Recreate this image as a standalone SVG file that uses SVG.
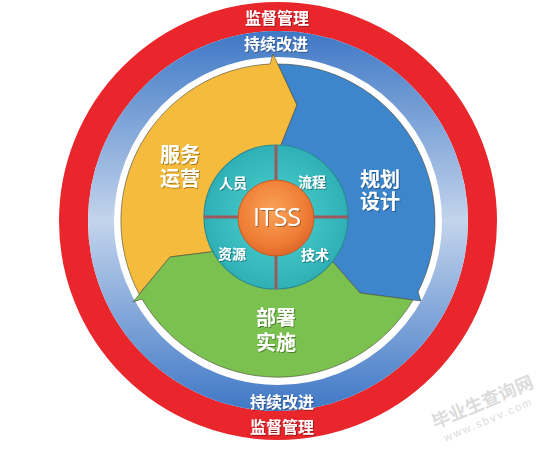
<svg xmlns="http://www.w3.org/2000/svg" width="554" height="452" viewBox="0 0 554 452">
<defs>
<linearGradient id="ringBlue" gradientUnits="userSpaceOnUse" x1="0" y1="31" x2="0" y2="411">
<stop offset="0" stop-color="#3f78c6"/>
<stop offset="0.5" stop-color="#c3d4ec"/>
<stop offset="1" stop-color="#3f78c6"/>
</linearGradient>
<radialGradient id="orangeG" cx="0.45" cy="0.4" r="0.65">
<stop offset="0" stop-color="#f9a35a"/>
<stop offset="0.7" stop-color="#ef7c34"/>
<stop offset="1" stop-color="#d9612a"/>
</radialGradient>
<radialGradient id="tealG" cx="0.5" cy="0.5" r="0.5">
<stop offset="0.5" stop-color="#3fc2c4"/>
<stop offset="1" stop-color="#2fb0b6"/>
</radialGradient>
<filter id="sh" x="-20%" y="-20%" width="140%" height="140%">
<feDropShadow dx="1" dy="1" stdDeviation="0.6" flood-color="#000" flood-opacity="0.35"/>
</filter>
<style>
.seg{stroke:#4a4a3a;stroke-opacity:0.6;stroke-width:1;stroke-linejoin:miter}
.lbl{font-family:"Liberation Sans","Noto Sans CJK SC",sans-serif;font-weight:bold;fill:#fff;text-anchor:middle}
.big{font-size:20px}
.sm{font-size:14px}
.ring{font-size:16px}
.cross{stroke:#9b5a5e;stroke-width:3}
</style>
</defs>
<rect width="554" height="452" fill="#fff"/>
<g id="rings">
<circle cx="278" cy="221" r="204.5" fill="none" stroke="#e8262b" stroke-width="29"/>
<circle cx="278" cy="221" r="177" fill="none" stroke="url(#ringBlue)" stroke-width="26"/>
</g>
<g id="ring-labels" filter="url(#sh)">
<text class="lbl ring" x="277" y="23.5">监督管理</text>
<text class="lbl ring" x="276" y="50">持续改进</text>
<text class="lbl ring" x="282" y="408">持续改进</text>
<text class="lbl ring" x="282" y="433">监督管理</text>
</g>
<g id="connectors"></g>
<g id="seg-yunying">
<path class="seg" fill="#f5bb3c" d="M278 221 L210 252 L170 257 L139 294 A157 157 0 0 1 270 64 L273 54 L297 105 L281 145 Z"/>
<text class="lbl big" filter="url(#sh)"><tspan x="180" y="162">服务</tspan><tspan x="180" y="186">运营</tspan></text>
</g>
<g id="seg-guihua">
<path class="seg" fill="#3d86cb" d="M278 221 L281 145 L297 105 L278 64 A157 157 0 0 1 418 292 L421 301 L360 293 L333 262 Z"/>
<text class="lbl big" filter="url(#sh)"><tspan x="380" y="187">规划</tspan><tspan x="380" y="209">设计</tspan></text>
</g>
<g id="seg-bushu">
<path class="seg" fill="#7bc14f" d="M278 221 L333 262 L360 293 L413 300 A157 157 0 0 1 142 299 L133 302 L170 257 L210 252 Z"/>
<text class="lbl big" filter="url(#sh)"><tspan x="276" y="325">部署</tspan><tspan x="276" y="350">实施</tspan></text>
</g>
<g id="core">
<circle cx="276" cy="217" r="72" fill="url(#tealG)" stroke="#2a8c92" stroke-width="1.2"/>
<line class="cross" x1="276" y1="145" x2="276" y2="289"/>
<line class="cross" x1="204" y1="217" x2="348" y2="217"/>
</g>
<g id="node-renyuan"><text class="lbl sm" x="233" y="188" filter="url(#sh)">人员</text></g>
<g id="node-liucheng"><text class="lbl sm" x="312" y="187" filter="url(#sh)">流程</text></g>
<g id="node-ziyuan"><text class="lbl sm" x="232" y="259" filter="url(#sh)">资源</text></g>
<g id="node-jishu"><text class="lbl sm" x="315" y="260" filter="url(#sh)">技术</text></g>
<g id="node-itss">
<circle cx="276" cy="218" r="38" fill="url(#orangeG)" stroke="#c55a22" stroke-width="1"/>
<text x="277" y="226" font-family="'Open Sans','Liberation Sans',sans-serif" font-size="25" fill="#fff" text-anchor="middle" filter="url(#sh)">ITSS</text>
</g>
<g id="watermark" fill="#dcdcdc" font-family="'Liberation Sans','Noto Sans CJK SC',sans-serif" text-anchor="middle">
<text x="485" y="408" font-size="18" font-weight="bold" transform="rotate(-23 485 408)">毕业生查询网</text>
<text x="490" y="423" font-size="11" letter-spacing="2" transform="rotate(-23 490 423)">www.sbvv.com</text>
</g>
</svg>
